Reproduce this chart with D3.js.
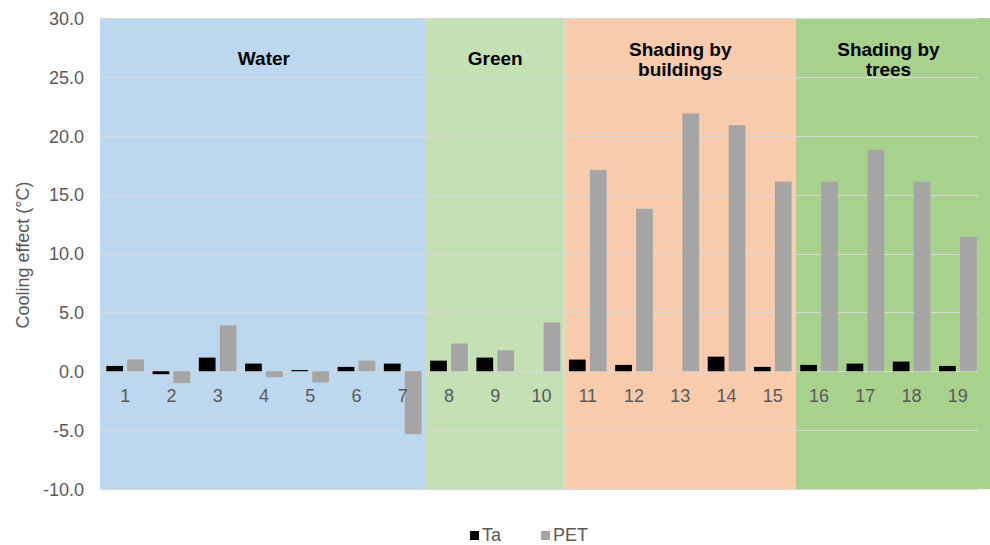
<!DOCTYPE html>
<html><head><meta charset="utf-8">
<script src="https://cdn.jsdelivr.net/npm/d3@7/dist/d3.min.js"></script>
<style>html,body{margin:0;padding:0;background:#fff;overflow:hidden;width:990px;height:545px}svg{display:block}</style>
</head><body><svg id="c" width="990" height="545"></svg>
<script>
const categories = ["1","2","3","4","5","6","7","8","9","10","11","12","13","14","15","16","17","18","19"];
const ta  = [0.45,-0.25,1.16,0.65,0.1,0.37,0.65,0.9,1.16,0,0.99,0.54,0,1.24,0.37,0.54,0.65,0.82,0.45];
const pet = [1.0,-1.0,3.9,-0.5,-0.95,0.9,-5.34,2.35,1.78,4.15,17.1,13.8,21.9,20.9,16.1,16.1,18.8,16.1,11.4];
const seriesNames = ["Ta","PET"];
const seriesColors = ["#000000","#A5A5A5"];
const yTicks = [-10,-5,0,5,10,15,20,25,30];
const groupNames = [["Water"],["Green"],["Shading by","buildings"],["Shading by","trees"]];
const groupStart = ["1","8","11","16"];
const groupEnd = ["7","10","15","19"];
const groupColors = ["#BDD7EE","#C5E0B4","#F8CBAD","#A9D18E"];

const svg = d3.select("#c");
const x = d3.scaleBand().domain(categories).range([102,981]).paddingInner(0).paddingOuter(0);
const x1 = d3.scaleBand().domain(seriesNames).range([4.3, x.bandwidth()-4.3]).paddingInner(0.2);
const y = d3.scaleLinear().domain([-10,30]).range([489,18]);

// background bands
groupNames.forEach((g,i)=>{
  const x0 = i===0 ? x(groupStart[i]) - 2 : x(groupStart[i]);
  const xe = i===groupNames.length-1 ? 990 : x(groupEnd[i]) + x.bandwidth();
  svg.append("rect").attr("x",x0).attr("y",y(30)).attr("width",xe-x0).attr("height",y(-10)-y(30)).attr("fill",groupColors[i]);
});

// gridlines
svg.append("g").selectAll("line").data(yTicks).join("line")
  .attr("x1",101).attr("x2",978).attr("y1",d=>Math.round(y(d))+0.5).attr("y2",d=>Math.round(y(d))+0.5)
  .attr("stroke","#D9D9D9").attr("stroke-width",1.2);

// group labels
groupNames.forEach((g,i)=>{
  const cx = (x(groupStart[i]) + x(groupEnd[i]) + x.bandwidth())/2;
  const t = svg.append("text").attr("x",cx).attr("text-anchor","middle")
    .attr("font-family","'Liberation Sans Narrow','Arial Narrow',sans-serif").attr("font-weight","bold")
    .attr("font-size",19).attr("fill","#000");
  if(g.length===1){ t.append("tspan").attr("x",cx).attr("y",65).text(g[0]); }
  else { g.forEach((s,k)=>t.append("tspan").attr("x",cx).attr("y",56+k*20).text(s)); }
});

// bars
const data = categories.map((c,i)=>({c, vals:[ta[i],pet[i]]}));
const gs = svg.append("g").selectAll("g").data(data).join("g").attr("transform",d=>`translate(${x(d.c)},0)`);
gs.selectAll("rect").data(d=>d.vals.map((v,k)=>({k,v}))).join("rect")
  .attr("x",d=>x1(seriesNames[d.k])).attr("width",x1.bandwidth())
  .attr("y",d=>y(Math.max(0,d.v))).attr("height",d=>Math.abs(y(d.v)-y(0)))
  .attr("fill",d=>seriesColors[d.k]);

// y axis labels
const yAxis = d3.axisLeft(y).tickValues(yTicks).tickFormat(d=>d.toFixed(1)).tickSize(0).tickPadding(0);
const ya = svg.append("g").attr("transform","translate(84,0)").call(yAxis);
ya.select(".domain").remove();
ya.selectAll("text").attr("font-family","'Liberation Sans',Arial,sans-serif").attr("font-size",18).attr("fill","#595959").attr("dy","0.35em");

// x axis labels
const xAxis = d3.axisBottom(x).tickSize(0).tickPadding(0);
const xa = svg.append("g").attr("transform",`translate(0,${y(0)+18})`).call(xAxis);
xa.select(".domain").remove();
xa.selectAll("text").attr("font-family","'Liberation Sans',Arial,sans-serif").attr("font-size",18).attr("fill","#595959").attr("dy","0.71em");

// axis title
svg.append("text").attr("transform","translate(29,255) rotate(-90)").attr("text-anchor","middle")
  .attr("font-family","'Liberation Sans',Arial,sans-serif").attr("font-size",18).attr("fill","#595959").text("Cooling effect (°C)");

// legend
const lg = svg.append("g");
const legX = [470,541];
seriesNames.forEach((s,i)=>{
  lg.append("rect").attr("x",legX[i]).attr("y",531).attr("width",9).attr("height",9).attr("fill",seriesColors[i]);
  lg.append("text").attr("x",legX[i]+12).attr("y",541).attr("font-family","'Liberation Sans',Arial,sans-serif")
    .attr("font-size",18).attr("fill","#595959").text(s);
});
</script></body></html>
